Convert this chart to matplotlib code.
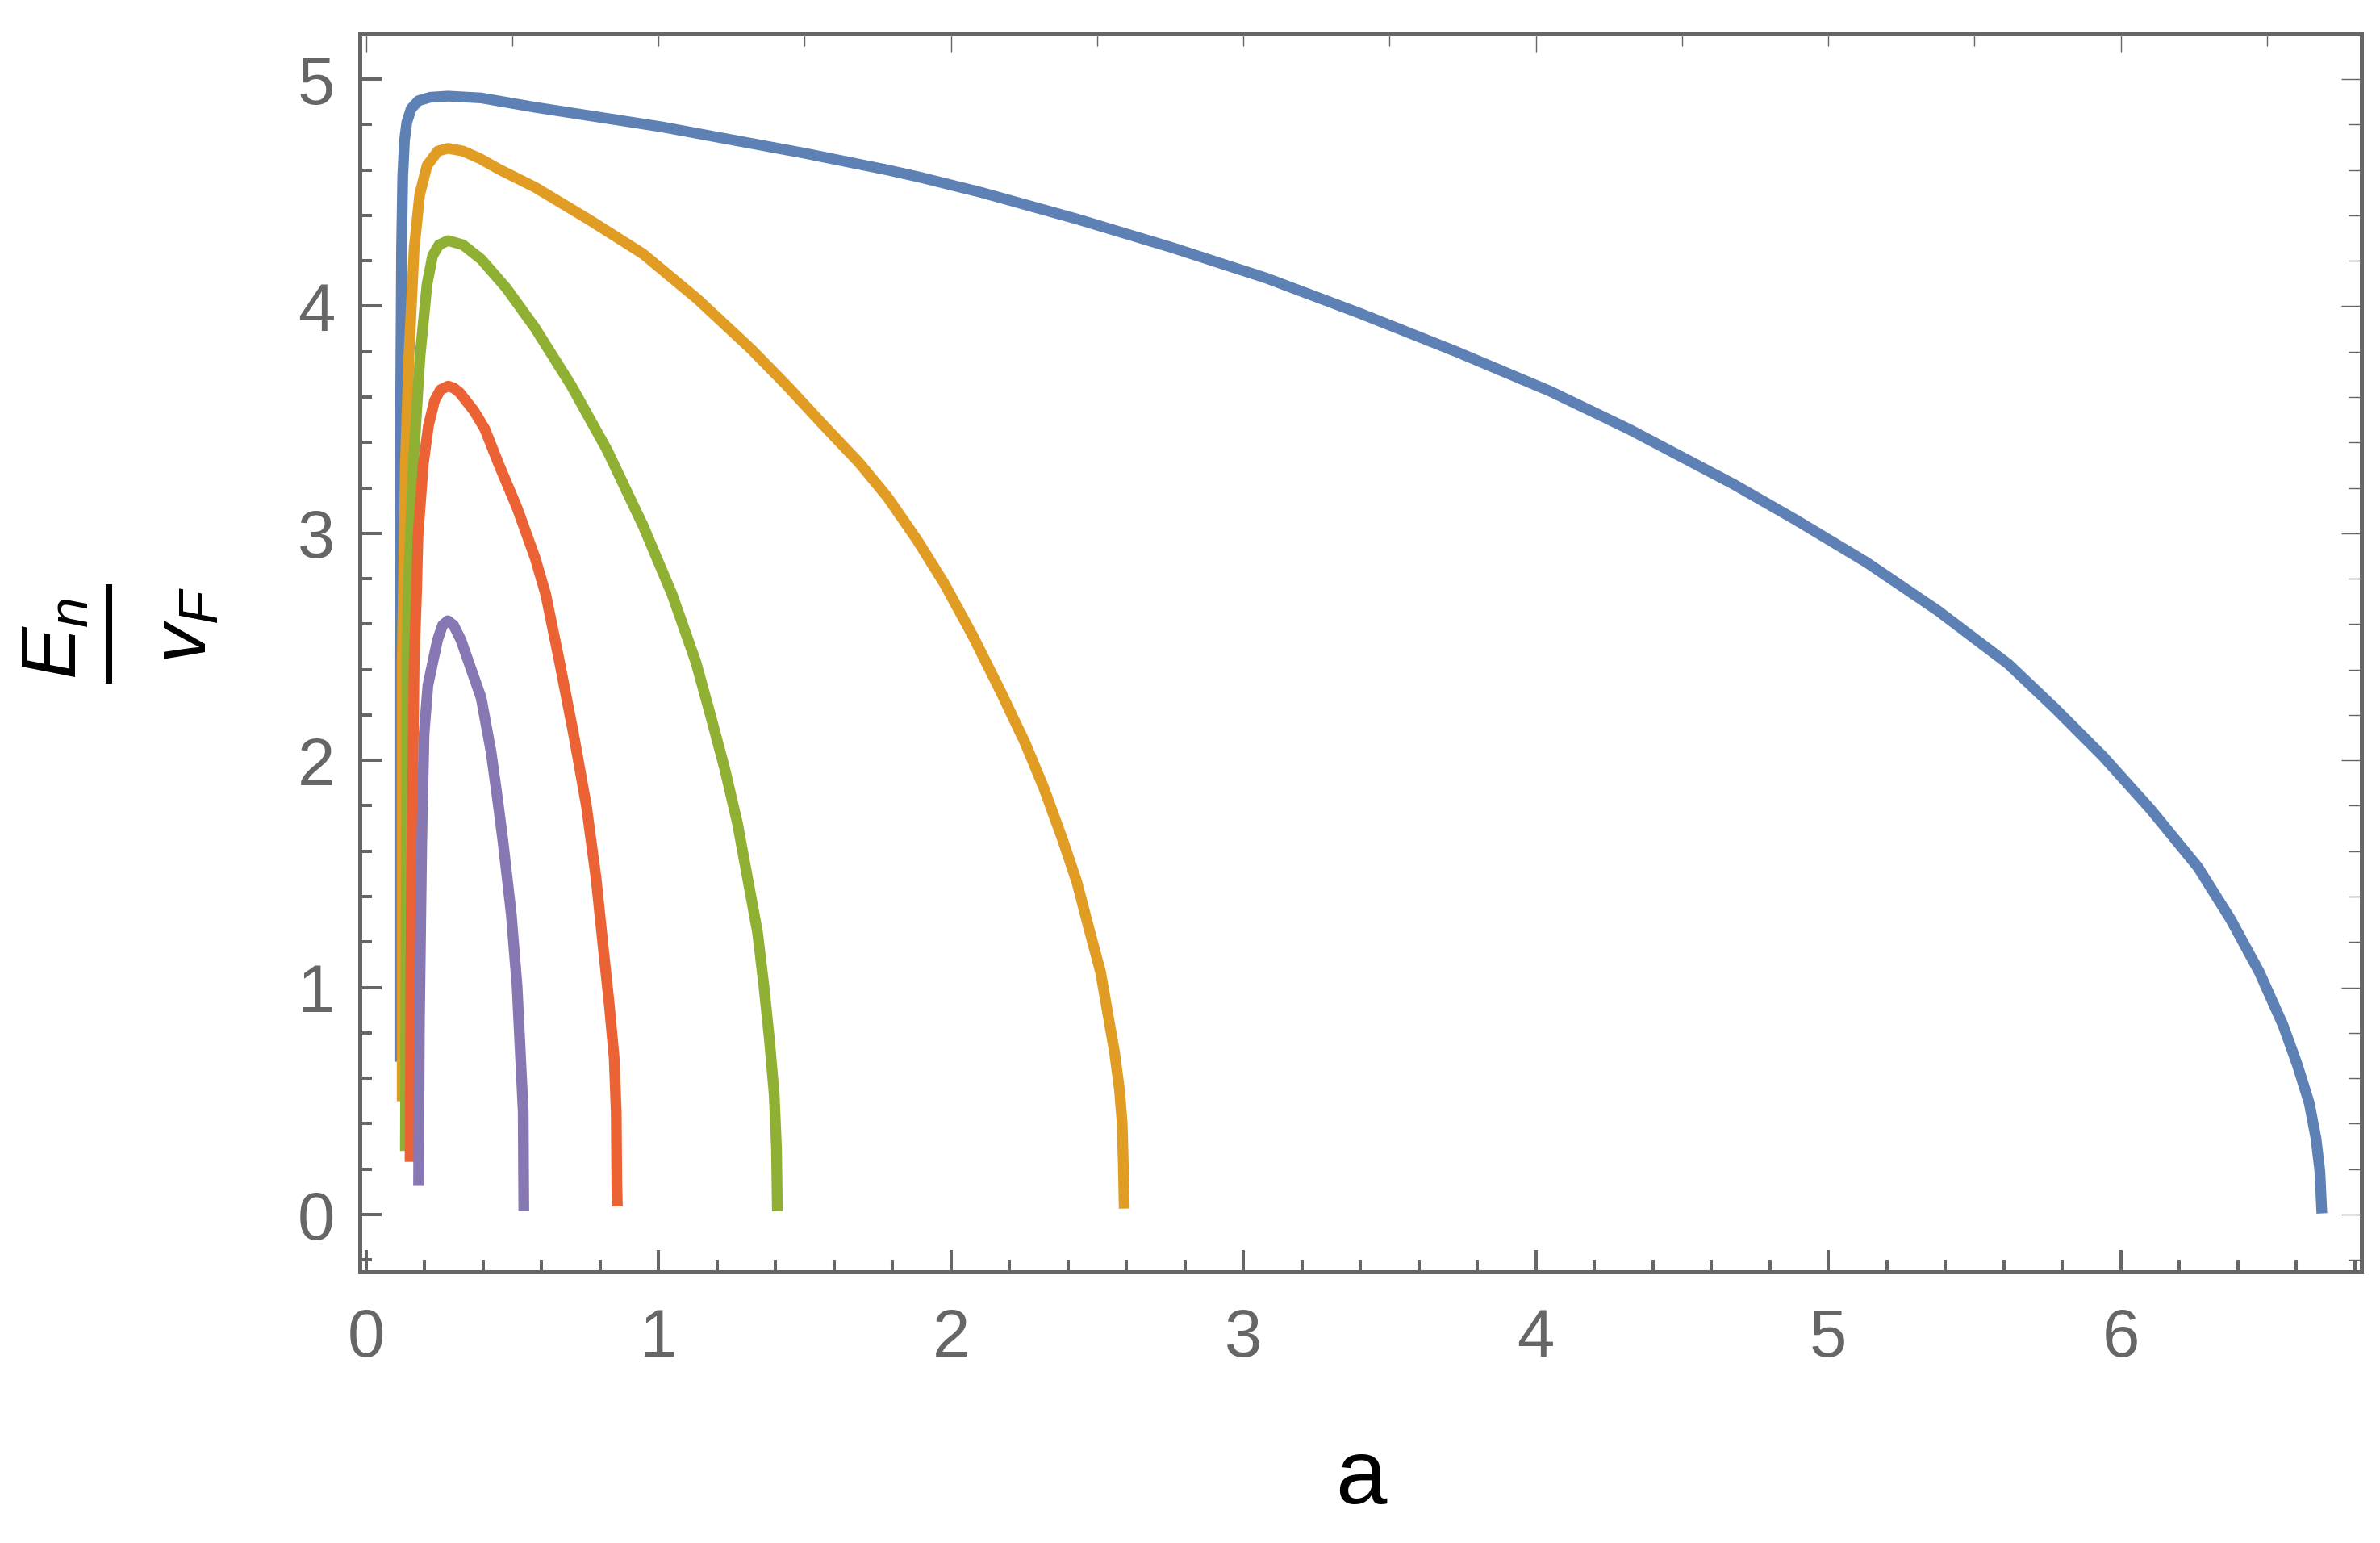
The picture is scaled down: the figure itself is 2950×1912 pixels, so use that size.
import matplotlib
matplotlib.use("Agg")
from matplotlib import pyplot as plt
from matplotlib.lines import Line2D
from matplotlib.ticker import MultipleLocator

# values, one (a, E_n/v_F) list pair per curve
blue_a = [0.116, 0.116, 0.119, 0.122, 0.126, 0.132, 0.140, 0.155, 0.180, 0.220,
          0.281, 0.394, 0.578, 1.010, 1.502, 1.783, 1.894, 2.107, 2.431, 2.754,
          3.078, 3.402, 3.726, 4.050, 4.321, 4.678, 4.888, 5.131, 5.374, 5.616,
          5.778, 5.940, 6.102, 6.264, 6.377, 6.474, 6.555, 6.604, 6.645, 6.668,
          6.681, 6.688]
blue_e = [0.673, 2.434, 3.620, 4.254, 4.571, 4.730, 4.810, 4.870, 4.905, 4.920,
          4.925, 4.917, 4.876, 4.790, 4.673, 4.600, 4.568, 4.500, 4.384, 4.259,
          4.124, 3.967, 3.801, 3.625, 3.457, 3.215, 3.060, 2.872, 2.660, 2.424,
          2.226, 2.017, 1.785, 1.530, 1.298, 1.068, 0.835, 0.660, 0.490, 0.335,
          0.193, 0.005]

orange_a = [0.124, 0.124, 0.128, 0.135, 0.147, 0.165, 0.184, 0.209, 0.246, 0.281,
            0.332, 0.390, 0.455, 0.578, 0.763, 0.948, 1.133, 1.318, 1.441, 1.564,
            1.687, 1.783, 1.885, 1.978, 2.075, 2.172, 2.253, 2.317, 2.382, 2.431,
            2.471, 2.512, 2.536, 2.560, 2.577, 2.586, 2.590, 2.593]
orange_e = [0.499, 2.434, 2.731, 3.302, 3.778, 4.254, 4.492, 4.619, 4.683, 4.695,
            4.683, 4.650, 4.603, 4.524, 4.381, 4.230, 4.032, 3.810, 3.648, 3.477,
            3.310, 3.160, 2.970, 2.778, 2.549, 2.299, 2.080, 1.882, 1.652, 1.464,
            1.266, 1.068, 0.891, 0.714, 0.547, 0.401, 0.214, 0.026]

green_a = [0.135, 0.141, 0.144, 0.162, 0.185, 0.209, 0.228, 0.250, 0.281, 0.332,
           0.394, 0.480, 0.578, 0.702, 0.825, 0.948, 1.047, 1.128, 1.178, 1.228,
           1.271, 1.305, 1.339, 1.361, 1.380, 1.396, 1.404, 1.407]
green_e = [0.280, 2.434, 2.731, 3.302, 3.778, 4.096, 4.222, 4.270, 4.289, 4.270,
           4.207, 4.080, 3.905, 3.651, 3.366, 3.033, 2.731, 2.434, 2.200, 1.958,
           1.720, 1.482, 1.244, 1.006, 0.768, 0.531, 0.292, 0.015]

red_a = [0.151, 0.155, 0.165, 0.173, 0.178, 0.196, 0.214, 0.235, 0.255, 0.281,
         0.300, 0.320, 0.369, 0.406, 0.455, 0.517, 0.579, 0.615, 0.662, 0.710,
         0.754, 0.787, 0.8125, 0.832, 0.849, 0.856, 0.858, 0.860]
red_e = [0.232, 1.324, 2.434, 2.731, 2.985, 3.302, 3.475, 3.585, 3.632, 3.648,
         3.640, 3.620, 3.540, 3.461, 3.302, 3.112, 2.890, 2.731, 2.434, 2.117,
         1.800, 1.482, 1.165, 0.927, 0.689, 0.451, 0.134, 0.036]

purple_a = [0.180, 0.183, 0.191, 0.199, 0.212, 0.229, 0.245, 0.262, 0.280, 0.300,
            0.325, 0.351, 0.394, 0.428, 0.450, 0.469, 0.497, 0.517, 0.529, 0.538,
            0.539, 0.540]
purple_e = [0.126, 0.848, 1.641, 2.117, 2.330, 2.434, 2.530, 2.595, 2.615, 2.595,
            2.530, 2.434, 2.276, 2.038, 1.832, 1.641, 1.324, 1.006, 0.689, 0.451,
            0.213, 0.015]

colors = ["#5E81B5", "#E19C24", "#8FB032", "#EB6235", "#8778B3"]
x_ticks = [0, 1, 2, 3, 4, 5, 6]
y_ticks = [0, 1, 2, 3, 4, 5]

GREY = "#666666"


def setup_fonts():
    plt.rcParams["font.family"] = ["Liberation Sans", "DejaVu Sans"]
    plt.rcParams["mathtext.fontset"] = "custom"
    plt.rcParams["mathtext.it"] = "Liberation Sans:italic"
    plt.rcParams["mathtext.rm"] = "Liberation Sans"


def style_axes(ax):
    ax.set_xlim(-0.0207, 6.8234)
    ax.set_ylim(-0.2523, 5.199)
    for side in ax.spines:
        ax.spines[side].set_color(GREY)
        ax.spines[side].set_linewidth(1.8)

    ax.set_xticks(x_ticks)
    ax.set_yticks(y_ticks)
    ax.xaxis.set_minor_locator(MultipleLocator(0.2))
    ax.yaxis.set_minor_locator(MultipleLocator(0.2))
    ax.tick_params(which="both", direction="in", top=False, right=False,
                   color=GREY, labelcolor=GREY, labelsize=30)
    ax.tick_params(which="major", length=9.7, width=1.45)
    ax.tick_params(which="minor", length=5.5, width=1.45)
    ax.tick_params(axis="x", pad=16)
    ax.tick_params(axis="y", pad=11)

    # thin ticks on the top and right sides of the frame
    top = ax.secondary_xaxis("top")
    top.xaxis.set_major_locator(MultipleLocator(2))
    top.xaxis.set_minor_locator(MultipleLocator(0.5))
    top.tick_params(which="both", direction="in", labeltop=False, color=GREY, width=0.5)
    top.tick_params(which="major", length=8.3)
    top.tick_params(which="minor", length=5.4)
    for side in top.spines:
        top.spines[side].set_visible(False)

    right = ax.secondary_yaxis("right")
    right.yaxis.set_major_locator(MultipleLocator(1))
    right.yaxis.set_minor_locator(MultipleLocator(0.2))
    right.tick_params(which="both", direction="in", labelright=False, color=GREY, width=0.5)
    right.tick_params(which="major", length=9.0)
    right.tick_params(which="minor", length=5.8)
    for side in right.spines:
        right.spines[side].set_visible(False)


def add_labels(fig):
    fig.text(0.5717, 0.0256, "a", fontsize=41, color="black", ha="center", va="baseline")
    # y label: fraction E_n / v_F, turned on its side
    fig.text(0.0232, 0.5863, r"$E_n$", fontsize=35, rotation=90, ha="center", va="center")
    fig.add_artist(Line2D([0.0456, 0.0456], [1 - 724 / 1912, 1 - 847 / 1912],
                          color="black", lw=2.9, transform=fig.transFigure,
                          solid_capstyle="butt"))
    fig.text(0.0783, 0.5949, r"$v_F$", fontsize=35, rotation=90, ha="center", va="center")


def main():
    setup_fonts()
    fig = plt.figure(figsize=(14.75, 9.56), dpi=200)
    ax = fig.add_axes([0.15119, 0.17573, 0.84102, 0.80230])

    curves = [(blue_a, blue_e), (orange_a, orange_e), (green_a, green_e),
              (red_a, red_e), (purple_a, purple_e)]
    for (xs, ys), c in zip(curves, colors):
        ax.plot(xs, ys, color=c, lw=4.8, solid_capstyle="butt", solid_joinstyle="round")

    style_axes(ax)
    add_labels(fig)
    fig.savefig("out.png", dpi=200)


if __name__ == "__main__":
    main()
